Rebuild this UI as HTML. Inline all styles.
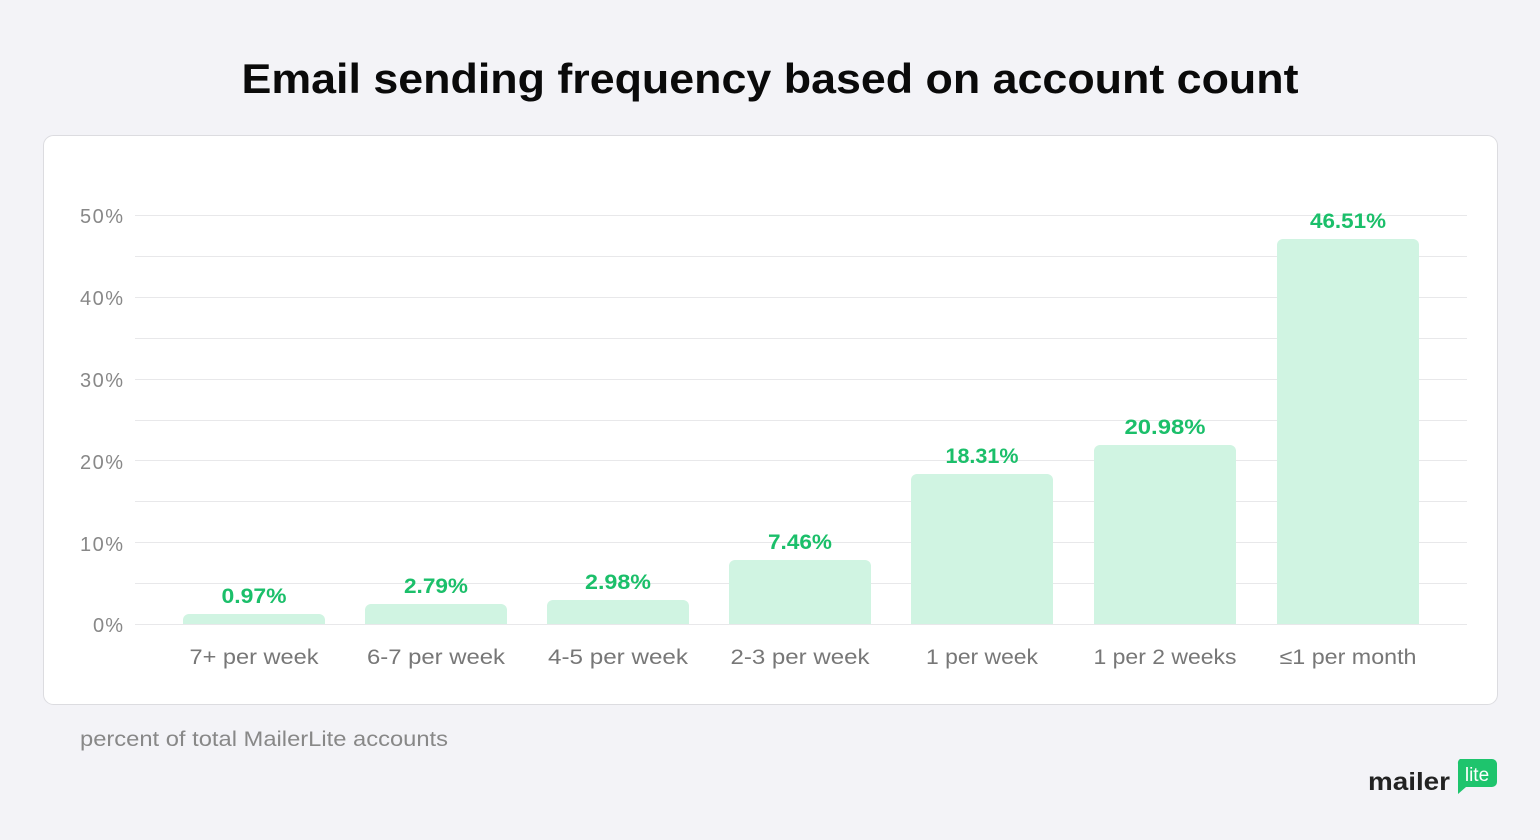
<!DOCTYPE html>
<html><head><style>
html,body{margin:0;padding:0;background:#f3f3f7;width:1540px;height:840px;overflow:hidden;font-family:"Liberation Sans",sans-serif;}
</style></head><body>
<svg width="1540" height="840" xmlns="http://www.w3.org/2000/svg" style="position:absolute;left:0;top:0">
<text x="770" y="93" text-anchor="middle" font-size="42" font-weight="bold" fill="#0a0a0a" textLength="1057" lengthAdjust="spacingAndGlyphs">Email sending frequency based on account count</text>
<rect x="43.5" y="135.5" width="1454" height="569" rx="10" fill="#fff" stroke="#dcdce0"/>
<g stroke="#e8e8ea" stroke-width="1">
<line x1="135" x2="1467" y1="215.5" y2="215.5"/><line x1="135" x2="1467" y1="256.5" y2="256.5"/>
<line x1="135" x2="1467" y1="297.5" y2="297.5"/><line x1="135" x2="1467" y1="338.5" y2="338.5"/>
<line x1="135" x2="1467" y1="379.5" y2="379.5"/><line x1="135" x2="1467" y1="420.5" y2="420.5"/>
<line x1="135" x2="1467" y1="460.5" y2="460.5"/><line x1="135" x2="1467" y1="501.5" y2="501.5"/>
<line x1="135" x2="1467" y1="542.5" y2="542.5"/><line x1="135" x2="1467" y1="583.5" y2="583.5"/>
<line x1="135" x2="1467" y1="624.5" y2="624.5"/>
</g>
<g font-size="20" fill="#888" text-anchor="end" lengthAdjust="spacingAndGlyphs">
<text x="123" y="223" textLength="43">50%</text><text x="123" y="305" textLength="43">40%</text><text x="123" y="387" textLength="43">30%</text>
<text x="123" y="469" textLength="43">20%</text><text x="123" y="551" textLength="43">10%</text><text x="123" y="632" textLength="30">0%</text>
</g>
<g fill="#d0f4e2">
<path d="M183 624V620a6 6 0 0 1 6-6h130a6 6 0 0 1 6 6V624Z"/>
<path d="M365 624V610a6 6 0 0 1 6-6h130a6 6 0 0 1 6 6V624Z"/>
<path d="M547 624V606a6 6 0 0 1 6-6h130a6 6 0 0 1 6 6V624Z"/>
<path d="M729 624V566a6 6 0 0 1 6-6h130a6 6 0 0 1 6 6V624Z"/>
<path d="M911 624V480a6 6 0 0 1 6-6h130a6 6 0 0 1 6 6V624Z"/>
<path d="M1094 624V451a6 6 0 0 1 6-6h130a6 6 0 0 1 6 6V624Z"/>
<path d="M1277 624V245a6 6 0 0 1 6-6h130a6 6 0 0 1 6 6V624Z"/>
</g>
<g font-size="21" font-weight="bold" fill="#1bbf6a" text-anchor="middle">
<text x="254" y="603" textLength="65" lengthAdjust="spacingAndGlyphs">0.97%</text>
<text x="436" y="593" textLength="64" lengthAdjust="spacingAndGlyphs">2.79%</text>
<text x="618" y="589" textLength="66" lengthAdjust="spacingAndGlyphs">2.98%</text>
<text x="800" y="549" textLength="64" lengthAdjust="spacingAndGlyphs">7.46%</text>
<text x="982" y="463" textLength="73" lengthAdjust="spacingAndGlyphs">18.31%</text>
<text x="1165" y="434" textLength="81" lengthAdjust="spacingAndGlyphs">20.98%</text>
<text x="1348" y="228" textLength="76" lengthAdjust="spacingAndGlyphs">46.51%</text>
</g>
<g font-size="21" fill="#777" text-anchor="middle">
<text x="254" y="664" textLength="129" lengthAdjust="spacingAndGlyphs">7+ per week</text>
<text x="436" y="664" textLength="138" lengthAdjust="spacingAndGlyphs">6-7 per week</text>
<text x="618" y="664" textLength="140" lengthAdjust="spacingAndGlyphs">4-5 per week</text>
<text x="800" y="664" textLength="139" lengthAdjust="spacingAndGlyphs">2-3 per week</text>
<text x="982" y="664" textLength="112" lengthAdjust="spacingAndGlyphs">1 per week</text>
<text x="1165" y="664" textLength="143" lengthAdjust="spacingAndGlyphs">1 per 2 weeks</text>
<text x="1348" y="664" textLength="137" lengthAdjust="spacingAndGlyphs">≤1 per month</text>
</g>
<text x="80" y="746" font-size="21" fill="#888" textLength="368" lengthAdjust="spacingAndGlyphs">percent of total MailerLite accounts</text>
<text x="1368" y="790" font-size="25" fill="#222" font-weight="bold" textLength="82" lengthAdjust="spacingAndGlyphs">mailer</text>
<path d="M1460 759h32a5 5 0 0 1 5 5v18a5 5 0 0 1-5 5h-26l-8 7v-30a5 5 0 0 1 2-5Z" fill="#1ec46d"/>
<text x="1477" y="781" font-size="19" fill="#fff" text-anchor="middle">lite</text>
</svg>
</body></html>
